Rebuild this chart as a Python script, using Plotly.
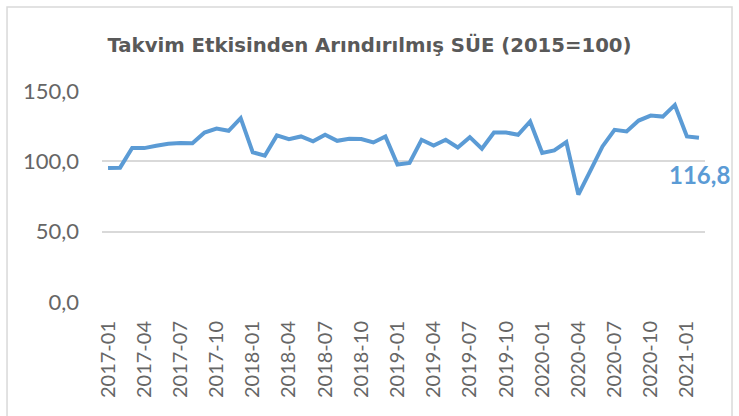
import plotly.graph_objects as go

months = [f"{y}-{m:02d}" for y in range(2017, 2022) for m in range(1, 13)][:50]
values = [95.3, 95.5, 109.5, 109.4, 111.1, 112.5, 113.0, 112.8, 120.5, 123.3,
          121.7, 130.7, 106.4, 104.0, 118.4, 115.8, 117.7, 114.2, 118.9, 114.6,
          116.0, 115.8, 113.4, 117.7, 97.7, 98.8, 115.3, 111.3, 115.3, 109.9,
          117.2, 109.0, 120.5, 120.5, 118.9, 128.3, 105.9, 107.8, 113.7, 76.4,
          93.4, 110.6, 122.4, 121.2, 129.0, 132.5, 131.8, 140.1, 117.7, 116.8]
tick_labels = months[::3]
y_ticks = [0, 50, 100, 150]
y_tick_text = ["0,0", "50,0", "100,0", "150,0"]
title = "Takvim Etkisinden Arındırılmış SÜE (2015=100)"
last_label = "116,8"

FONT = "Lato"
GRAY = "#595959"
TICK_GRAY = "#666666"
BLUE = "#5b9bd5"

fig = go.Figure()
fig.add_trace(go.Scatter(x=months, y=values, mode="lines",
                         line=dict(color=BLUE, width=4), hoverinfo="skip"))

fig.add_annotation(x=months[-1], y=values[-1], text=f"<b>{last_label}</b>",
                   showarrow=False, yshift=-37, xshift=1,
                   font=dict(family=FONT, size=24, color=BLUE))

fig.add_shape(type="rect", xref="paper", yref="paper",
              x0=-0.1575, x1=1.0448, y0=-0.6, y1=1.398,
              line=dict(color="#d9d9d9", width=1.5), fillcolor="rgba(0,0,0,0)")

fig.update_layout(
    width=739, height=416,
    margin=dict(l=102, r=34, t=91, b=114, autoexpand=False),
    paper_bgcolor="white", plot_bgcolor="white",
    showlegend=False,
    title=dict(text=f"<b>{title}</b>", x=0.5, xanchor="center",
               y=1 - 45 / 416, yanchor="middle",
               font=dict(family="DejaVu Sans", size=19.7, color=GRAY)),
    xaxis=dict(type="category", tickmode="array", tickvals=tick_labels,
               ticktext=tick_labels, tickangle=-90, automargin=False,
               tickfont=dict(family=FONT, size=20, color=TICK_GRAY),
               showgrid=False, showline=False, ticks="", ticklabelstandoff=14,
               range=[-0.5, len(months) - 0.5]),
    yaxis=dict(range=[0, 150], tickvals=y_ticks, ticktext=y_tick_text,
               automargin=False,
               tickfont=dict(family=FONT, size=22, color=TICK_GRAY),
               showgrid=True, gridcolor="#d9d9d9", gridwidth=1.5,
               zeroline=False, showline=False, ticks="", ticklabelstandoff=22),
)

fig.write_html("out.html", config={"displayModeBar": False},
               post_script="document.body.style.margin='0';document.body.style.padding='0';")
